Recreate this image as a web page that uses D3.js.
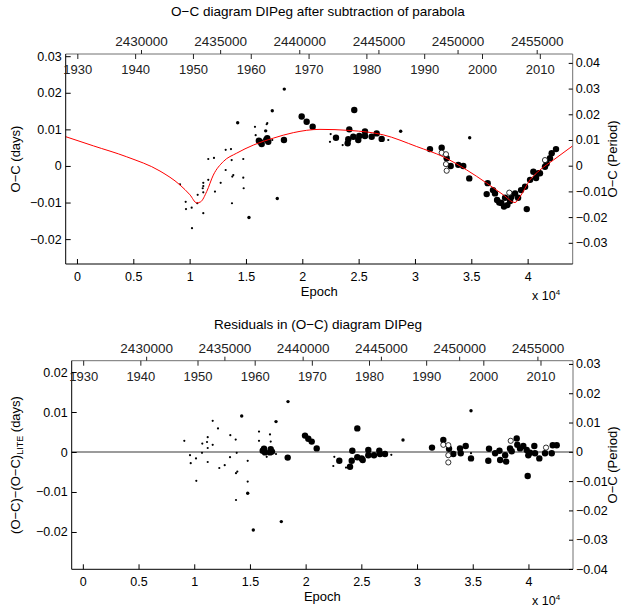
<!DOCTYPE html>
<html>
<head>
<meta charset="utf-8">
<script src="https://cdn.jsdelivr.net/npm/d3@7"></script>
<style>
  body { margin: 0; background: #fff; }
  svg text { font-family: "Liberation Sans", Arial, Helvetica, sans-serif; }
</style>
</head>
<body>
<svg id="chart"></svg>
<script>
// ephemeris used for the JD / calendar axes
const T0 = 2425955;
const P = 0.7118;

const epochTicks = [0, 5000, 10000, 15000, 20000, 25000, 30000, 35000, 40000];
const jdTicks = [2430000, 2435000, 2440000, 2445000, 2450000, 2455000];
const yearTicks = [1930, 1940, 1950, 1960, 1970, 1980, 1990, 2000, 2010];

// --- top panel: O-C after parabola (epoch, days) ---
const visTop = [[9145,-0.0050],[9650,-0.0098],[9677,-0.0118],[10181,-0.0114],[10210,-0.0170],
  [10714,-0.0079],[10680,-0.0102],[11211,-0.0046],[11211,-0.0055],[11160,-0.0061],[11211,-0.0072],
  [11211,-0.0129],[11654,0.0019],[11654,-0.0038],[12160,0.0022],[12249,-0.0070],[12755,-0.0046],
  [13199,0.0044],[13199,-0.0011],[13669,0.0046],[13731,0.0016],[13785,-0.0029],[13874,-0.0025],
  [13758,-0.0102],[14761,0.0019],[14761,-0.0032],[14797,-0.0061],[15799,0.0107],[15862,0.0084],
  [16838,0.0114],[16891,0.0117],[17335,0.0071],[22518,0.0087],[22456,0.0066],[23584,0.0057],
  [27631,0.0071]];
const visTopBig = [[14264,0.0118],[15267,-0.0141],[16749,0.0096],[17335,0.0151],[17779,-0.0089],
  [18400,0.0210],[28732,0.0095],[34856,0.0077]];
const fullTop = [[16146,0.0069],[16243,0.0066],[16394,0.0060],[16801,0.0072],[16891,0.0076],[16980,0.0066],
  [18373,0.0071],[19944,0.0135],[20388,0.0121],[20921,0.0107],[24613,0.0153],[24170,0.0100],
  [22989,0.0077],[24080,0.0073],[24027,0.0062],[24524,0.0080],[24968,0.0071],[25057,0.0082],
  [25563,0.0094],[25563,0.0082],[26158,0.0080],[26602,0.0089],[27046,0.0074],[31332,0.0046],
  [32371,0.0050],[32815,0.0021],[33170,0.0000],[33844,0.0003],[34288,0.0000],[34820,-0.0034],
  [36454,-0.0047],[36365,-0.0077],[37102,-0.0075],[37484,-0.0100],[37902,-0.0111],[37289,-0.0093],
  [37998,-0.0087],[38442,-0.0096],[38886,-0.0075],[39152,-0.0087],[39418,-0.0066],[39773,-0.0057],
  [39924,-0.0118],[40217,-0.0038],[40510,-0.0016],[40954,-0.0020],[40750,-0.0033],[41691,0.0007],
  [41540,-0.0002],[42136,0.0035],[42518,0.0046],[41095,-0.0020],[41983,0.0021],[36924,-0.0066],
  [37670,-0.0101],[38200,-0.0107],[38555,-0.0085]];
const openTop = [[32371,0.0036],[32753,0.0032],[32753,0.0005],[32815,-0.0013],[38371,-0.0073],[41540,0.0016]];

// LITE fit
const liteCurve = [[-1000,0.0080],[1450,0.0055],[4414,0.0025],[7370,-0.0014],[9145,-0.0052],
  [10033,-0.0079],[10628,-0.0101],[10980,-0.0098],[11515,-0.0070],[12101,-0.0025],[12988,0.0012],
  [14178,0.0035],[15651,0.0057],[17427,0.0076],[19202,0.0091],[21572,0.0100],[24235,0.0097],
  [27190,0.0085],[30155,0.0053],[32516,0.0025],[34593,-0.0011],[36368,-0.0047],[37841,-0.0079],
  [38880,-0.0100],[39324,-0.0084],[40212,-0.0038],[41099,-0.0011],[42279,0.0016],[44000,0.0055]];

// --- bottom panel: residuals (epoch, days) ---
const visRes = [[9108,0.0028],[9620,-0.0008],[9683,-0.0028],[10158,-0.0016],[10185,-0.0072],
  [10724,0.0021],[10697,-0.0002],[11146,0.0025],[11209,0.0037],[11209,0.0010],[11209,-0.0025],
  [11657,0.0078],[11657,0.0018],[12133,0.0059],[12250,-0.0040],[12735,-0.0033],[13238,0.0042],
  [13211,-0.0013],[13722,0.0031],[13812,-0.0002],[13866,-0.0049],[13749,-0.0053],[13749,-0.0120],
  [14799,-0.0022],[14799,-0.0074],[15814,0.0051],[15814,0.0028],[16505,-0.0012],[16801,0.0044],
  [16864,0.0026],[17340,-0.0005],[22574,-0.0012],[22484,-0.0035],[23624,-0.0039],[27691,-0.0007],
  [34845,-0.0003]];
const visResBig = [[14261,0.0090],[14799,-0.0103],[15302,-0.0195],[17340,0.0076],[17816,-0.0174],
  [18417,0.0126],[28741,0.0030],[34845,0.0103]];
const fullRes = [[16263,0.0008],[16353,-0.0001],[16146,0.0003],[16864,0.0007],[16980,0.0001],
  [16801,-0.0001],[18390,-0.0014],[19943,0.0041],[20240,0.0033],[20545,0.0026],[20994,0.0009],
  [23022,-0.0022],[23983,-0.0037],[24136,-0.0022],[24190,0.0003],[24638,0.0059],[24638,-0.0013],
  [25033,-0.0016],[25123,-0.0020],[25626,0.0005],[25626,-0.0008],[26137,-0.0008],[26613,0.0003],
  [26676,-0.0005],[27125,-0.0005],[31344,0.0011],[32359,0.0030],[32871,0.0008],[33257,-0.0005],
  [33858,0.0009],[33921,-0.0003],[34370,0.0015],[34845,-0.0016],[36461,0.0008],[36398,-0.0022],
  [37011,-0.0003],[37397,0.0003],[37460,-0.0020],[37909,-0.0008],[37999,-0.0024],[38346,0.0009],
  [38499,0.0002],[38948,0.0034],[39001,0.0018],[39244,0.0009],[39540,0.0015],[39845,0.0005],
  [39935,-0.0060],[39989,-0.0008],[40142,-0.0002],[40528,0.0015],[40591,-0.0003],[40977,-0.0016],
  [41489,-0.0003],[42090,-0.0003],[42180,0.0017],[42539,0.0017]];
const openRes = [[32359,0.0018],[32808,0.0017],[32808,-0.0008],[32808,-0.0026],[38409,0.0028],[41579,0.0011]];

const width = 626, height = 610;
const svg = d3.select("#chart").attr("width", width).attr("height", height);
svg.append("rect").attr("width", width).attr("height", height).attr("fill", "#fff");

const jdToEpoch = jd => (jd - T0) / P;
const yearToEpoch = yr => jdToEpoch(2451544.5 + (yr - 2000) * 365.25);
const fmt = d => d === 0 ? "0" : d3.format(".2f")(d);

function styleAxis(g, size, color) {
  g.attr("font-size", size).attr("font-family", null).attr("color", color || "#000");
  g.select(".domain").remove();
}

function drawPanel(o) {
  const x = d3.scaleLinear().domain([-1000, 44000]).range([o.left, o.right]);
  const y = d3.scaleLinear().domain(o.yDom).range([o.bottom, o.top]);
  const y2 = d3.scaleLinear().domain(o.y2Dom).range([o.bottom, o.top]);
  const g = svg.append("g");

  g.append("text").attr("x", 318).attr("y", o.titleY)
    .attr("text-anchor", "middle").attr("font-size", 13.5).text(o.title);

  if (o.zeroLine) {
    g.append("line").attr("x1", o.left).attr("x2", o.right)
      .attr("y1", y(0)).attr("y2", y(0))
      .attr("stroke", "#7a7a7a").attr("stroke-width", 1.5);
  }

  g.selectAll("circle.vis").data(o.vis).join("circle").attr("class", "vis")
    .attr("cx", d => x(d[0])).attr("cy", d => y(d[1])).attr("r", 1.1).attr("fill", "#000");
  g.selectAll("circle.visbig").data(o.visBig).join("circle").attr("class", "visbig")
    .attr("cx", d => x(d[0])).attr("cy", d => y(d[1])).attr("r", 1.7).attr("fill", "#000");
  g.selectAll("circle.full").data(o.full).join("circle").attr("class", "full")
    .attr("cx", d => x(d[0])).attr("cy", d => y(d[1])).attr("r", 3.2).attr("fill", "#000");
  g.selectAll("circle.open").data(o.open).join("circle").attr("class", "open")
    .attr("cx", d => x(d[0])).attr("cy", d => y(d[1])).attr("r", 2.6)
    .attr("fill", "#fff").attr("stroke", "#000").attr("stroke-width", 0.8);

  if (o.curve) {
    const line = d3.line().x(d => x(d[0])).y(d => y(d[1])).curve(d3.curveMonotoneX);
    g.append("path").datum(o.curve).attr("d", line)
      .attr("fill", "none").attr("stroke", "#ff0000").attr("stroke-width", 1);
  }

  // box
  g.append("line").attr("x1", o.left).attr("x2", o.right).attr("y1", o.top).attr("y2", o.top).attr("stroke", "#707070");
  g.append("line").attr("x1", o.right).attr("x2", o.right).attr("y1", o.top).attr("y2", o.bottom).attr("stroke", "#707070");
  g.append("line").attr("x1", o.left).attr("x2", o.right).attr("y1", o.bottom).attr("y2", o.bottom).attr("stroke", "#000");
  g.append("line").attr("x1", o.left).attr("x2", o.left).attr("y1", o.top).attr("y2", o.bottom).attr("stroke", "#000");

  // epoch axis
  g.append("g").attr("transform", `translate(0,${o.bottom})`)
    .call(d3.axisBottom(x).tickValues(epochTicks).tickFormat(d => String(d / 1e4)).tickSize(-5).tickPadding(8))
    .call(a => styleAxis(a, 12.5));

  // calendar years, inside the top edge
  g.append("g").attr("transform", `translate(0,${o.top})`)
    .call(d3.axisBottom(x).tickValues(yearTicks.map(yearToEpoch)).tickFormat((d, i) => yearTicks[i]).tickSize(5).tickPadding(6))
    .call(a => styleAxis(a, 13, "#222"));

  // JD, above the top edge
  g.append("g").attr("transform", `translate(0,${o.top})`)
    .call(d3.axisTop(x).tickValues(jdTicks.map(jdToEpoch)).tickFormat((d, i) => jdTicks[i]).tickSize(4).tickPadding(4))
    .call(a => styleAxis(a, 13.5, "#222"));

  g.append("g").attr("transform", `translate(${o.left},0)`)
    .call(d3.axisLeft(y).tickValues(o.yTicks).tickFormat(fmt).tickSize(-5).tickPadding(4))
    .call(a => styleAxis(a, 12.5));

  g.append("g").attr("transform", `translate(${o.right},0)`)
    .call(d3.axisRight(y2).tickValues(o.y2Ticks).tickFormat(fmt).tickSize(-4).tickPadding(3))
    .call(a => styleAxis(a, 12.5));

  // axis labels
  const xl = (o.left + o.right) / 2;
  g.append("text").attr("x", xl).attr("y", o.bottom + 32)
    .attr("text-anchor", "middle").attr("font-size", 13).text("Epoch");
  const mult = g.append("text").attr("x", 532).attr("y", o.bottom + 36).attr("font-size", 12.5);
  mult.append("tspan").text("x 10");
  mult.append("tspan").attr("dy", -5).attr("font-size", 8).text("4");

  const yc = (o.top + o.bottom) / 2;
  const yl = g.append("text").attr("transform", `translate(20,${yc}) rotate(-90)`)
    .attr("text-anchor", "middle").attr("font-size", 13);
  o.ylabel(yl);
  g.append("text").attr("transform", `translate(617,${yc}) rotate(-90)`)
    .attr("text-anchor", "middle").attr("font-size", 13).text("O\u2212C (Period)");
}

drawPanel({
  left: 65.7, right: 572.7, top: 54, bottom: 264,
  yDom: [-0.0268, 0.0306], yTicks: [-0.02, -0.01, 0, 0.01, 0.02, 0.03],
  y2Dom: [-0.03825, 0.04346], y2Ticks: [-0.03, -0.02, -0.01, 0, 0.01, 0.02, 0.03, 0.04],
  title: "O\u2212C diagram DIPeg after subtraction of parabola", titleY: 16,
  vis: visTop, visBig: visTopBig, full: fullTop, open: openTop, curve: liteCurve,
  ylabel: t => t.text("O\u2212C (days)")
});

drawPanel({
  left: 71.7, right: 573, top: 360.7, bottom: 569.3,
  yDom: [-0.02933, 0.02283], yTicks: [-0.02, -0.01, 0, 0.01, 0.02],
  y2Dom: [-0.0401, 0.0311], y2Ticks: [-0.04, -0.03, -0.02, -0.01, 0, 0.01, 0.02, 0.03],
  title: "Residuals in (O\u2212C) diagram DIPeg", titleY: 329,
  vis: visRes, visBig: visResBig, full: fullRes, open: openRes, zeroLine: true,
  ylabel: t => {
    t.append("tspan").text("(O\u2212C)\u2212(O\u2212C)");
    t.append("tspan").attr("dy", 3).attr("font-size", 9).text("LITE");
    t.append("tspan").attr("dy", -3).text(" (days)");
  }
});
</script>
</body>
</html>
